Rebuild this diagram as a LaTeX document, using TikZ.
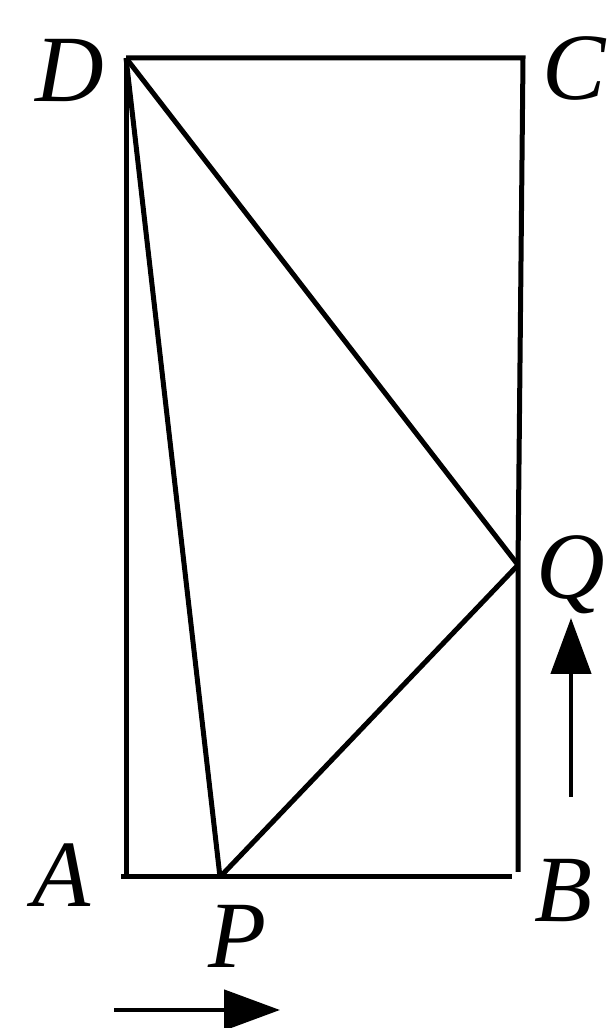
\documentclass[tikz,border=0pt]{standalone}
\usepackage{fontspec}
\setmainfont{Liberation Serif}
\usetikzlibrary{arrows.meta}
\begin{document}
\begin{tikzpicture}[x=1pt,y=1pt,
  edge/.style={line width=5pt,line cap=butt,line join=miter},
  lbl/.style={font=\fontsize{95}{100}\selectfont\itshape,inner sep=0pt},
  motion/.style={line width=4.6pt,-{Triangle[length=56pt,width=40pt]}}]
\useasboundingbox (0,0) rectangle (608,1028);
\coordinate (D) at (126,970);
\coordinate (C) at (523,970);
\coordinate (Q) at (518,463);
\coordinate (Bv) at (518,156);
\coordinate (A) at (126,151);
\coordinate (Bh) at (512,151);
\coordinate (A0) at (121,151);
\coordinate (P) at (220,151);
\draw[edge] (D) -- (C) -- (Q) -- (Bv);
\draw[edge] (A0) -- (Bh);
\draw[edge] (D) -- (A);
\draw[edge] (D) -- (P);
\draw[edge] (D) -- (Q);
\draw[edge] (P) -- (Q);
\node[lbl] (lD) at (70,957) {D};
\node[lbl] (lC) at (574,959) {C};
\node[lbl] (lA) at (62,153) {A};
\node[lbl] (lB) at (564,137) {B};
\node[lbl] (lP) at (238,92) {P};
\node[lbl] (lQ) at (571,453) {Q};
\coordinate (u0) at (571,231);
\coordinate (u1) at (571,410);
\coordinate (r0) at (114,18);
\coordinate (r1) at (280,18);
\draw[motion] (u0) -- (u1);
\draw[motion] (r0) -- (r1);
\end{tikzpicture}
\end{document}
